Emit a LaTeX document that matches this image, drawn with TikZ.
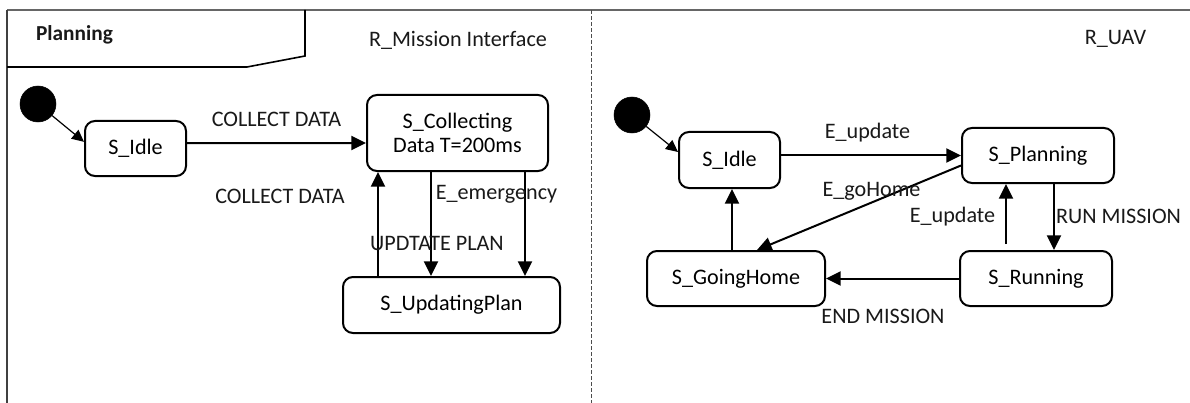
\documentclass[tikz,border=0pt]{standalone}
\usepackage{fontspec}
\setmainfont{Carlito}
\usetikzlibrary{arrows.meta}
\begin{document}
\begin{tikzpicture}[x=0.75pt,y=-0.75pt,
  font=\fontsize{16.6pt}{18.5pt}\selectfont,
  state/.style={draw=black,line width=1.5pt,rounded corners=7.5pt,align=center,inner sep=0pt},
  init/.style={circle,fill=black,draw=black,minimum size=27pt,inner sep=0pt},
  trans/.style={line width=1.5pt,-{Triangle[length=11pt,width=10.5pt]}},
  initarr/.style={line width=0.9pt,-{Triangle[length=9pt,width=8.5pt]}},
  lbl/.style={inner sep=0pt,text=black!90}]
\useasboundingbox (0,0) rectangle (1190,403);
\fill[white] (0,0) rectangle (1190,403);
% frame
\draw[line width=1pt,gray!80!black] (7,10) -- (1190,10);
\draw[line width=1pt,black!75] (7,10) -- (7,403);
\draw[line width=0.6pt,black!70,dash pattern=on 3pt off 1.5pt] (591,10) -- (591,403);
\draw[line width=1.2pt] (7,67) -- (247,67) -- (305,56) -- (305,10);
\node[lbl,font=\fontsize{16pt}{18pt}\selectfont\bfseries] (ttl) at (74.5,35) {Planning};
\node[lbl] (r1) at (458,40) {R\_Mission Interface};
\node[lbl] (r2) at (1115.5,39) {R\_UAV};
% left region
\node[init] (i1) at (38,104) {};
\node[state,minimum width=75.75pt,minimum height=41.25pt] (idle1) at (135.5,148.5) {S\_Idle};
\node[state,minimum width=135.75pt,minimum height=57pt] (coll) at (457.5,133) {S\_Collecting\\[0pt]Data T=200ms};
\node[state,minimum width=162.75pt,minimum height=42pt] (upd) at (451.5,305) {S\_UpdatingPlan};
\draw[initarr] (i1) -- ([yshift=5pt]idle1.west);
\draw[trans] ([yshift=4pt]idle1.east) -- (coll.west |- 0,143);
\draw[trans] (upd.north -| 378,0) -- (coll.south -| 378,0);
\draw[trans] (coll.south -| 431,0) -- (upd.north -| 431,0);
\draw[trans] (coll.south -| 525,0) -- (upd.north -| 525,0);
\node[lbl] (l1) at (276.5,119) {COLLECT DATA};
\node[lbl] (l2) at (280,196) {COLLECT DATA};
\node[lbl] (l3) at (496.5,194) {E\_emergency};
\node[lbl] (l4) at (437,243) {UPDTATE PLAN};
% right region
\node[init] (i2) at (632,115) {};
\node[state,minimum width=75.75pt,minimum height=42pt] (idle2) at (729.5,160) {S\_Idle};
\node[state,minimum width=114pt,minimum height=41.25pt] (plan) at (1038,155.5) {S\_Planning};
\node[state,minimum width=133.5pt,minimum height=41.25pt] (home) at (736,278.5) {S\_GoingHome};
\node[state,minimum width=114pt,minimum height=41.25pt] (run) at (1036,278.5) {S\_Running};
\draw[initarr] (i2) -- ([yshift=6pt]idle2.west);
\draw[trans] (idle2.east |- plan.west) -- (plan.west);
\draw[trans] ([yshift=-7.5pt]plan.west) -- (home.north -| 757,0);
\draw[trans] (home.north -| 732,0) -- (idle2.south -| 732,0);
\draw[trans] ([yshift=4.5pt]run.north -| 1006,0) -- (plan.south -| 1006,0);
\draw[trans] (plan.south -| 1054,0) -- (run.north -| 1054,0);
\draw[trans] (run.west) -- (home.east);
\node[lbl] (l5) at (867.5,133) {E\_update};
\node[lbl] (l6) at (871.5,191) {E\_goHome};
\node[lbl] (l7) at (952.5,217) {E\_update};
\node[lbl] (l8) at (1118.5,216) {RUN MISSION};
\node[lbl] (l9) at (883,316) {END MISSION};
\end{tikzpicture}
\end{document}
